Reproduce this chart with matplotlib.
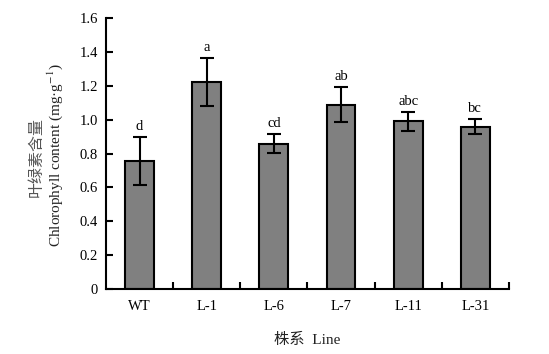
import numpy as np
import matplotlib
matplotlib.use("Agg")
import matplotlib.pyplot as plt

plt.rcParams['font.family'] = ['Liberation Serif', 'Noto Sans CJK SC']
plt.rcParams['mathtext.fontset'] = 'stix'

# 数据
lines = ["WT", "L-1", "L-6", "L-7", "L-11", "L-31"]
values = [0.757, 1.224, 0.858, 1.088, 0.990, 0.958]
errors = [0.140, 0.142, 0.057, 0.103, 0.056, 0.044]
letters = ["d", "a", "cd", "ab", "abc", "bc"]
yticks = [0, 0.2, 0.4, 0.6, 0.8, 1.0, 1.2, 1.4, 1.6]
ytick_labels = ["0", "0.2", "0.4", "0.6", "0.8", "1.0", "1.2", "1.4", "1.6"]

fig = plt.figure(figsize=(5.49, 3.54), dpi=100)
ax = fig.add_axes([0.193, 0.1836, 0.734, 0.7654])

x = np.arange(len(lines))
ax.bar(x, values, width=0.43, color="#808080", edgecolor="black", linewidth=1.5, zorder=2)
ax.errorbar(x, values, yerr=errors, fmt="none", ecolor="black", elinewidth=1.5,
            capsize=4.7, capthick=1.5, zorder=3)

for xi, v, e, t in zip(x, values, errors, letters):
    ax.annotate(t, (xi, v + e), xytext=(0, 3), textcoords="offset points",
                ha="center", va="bottom", fontsize=10.5)

ax.set_xlim(-0.5, 5.5)
ax.set_ylim(0, 1.6)
ax.set_yticks(yticks)
ax.set_yticklabels(ytick_labels, fontsize=10.5)
ax.set_xticks(x)
ax.set_xticklabels(lines, fontsize=10.5)
ax.tick_params(axis="x", which="major", length=0, pad=8)
ax.set_xticks(np.arange(0.5, 6, 1), minor=True)
ax.tick_params(axis="x", which="minor", direction="in", length=5, width=1.5)
ax.tick_params(axis="y", direction="in", length=5, width=1.5, pad=6)

for s in ["top", "right"]:
    ax.spines[s].set_visible(False)
for s in ["left", "bottom"]:
    ax.spines[s].set_linewidth(1.5)

fig.text(0.066, 0.556, "叶绿素含量", rotation=90, ha="center", va="center",
         fontsize=11.5, color="#555555", family=["Noto Sans CJK SC"])
fig.text(0.1, 0.562, "Chlorophyll content (mg·g$^{-1}$)", rotation=90,
         ha="center", va="center", fontsize=11, color="#222222")
fig.text(0.56, 0.04, "株系  Line", ha="center", va="center", fontsize=11,
         color="#222222")

fig.savefig("out.png", dpi=100)
